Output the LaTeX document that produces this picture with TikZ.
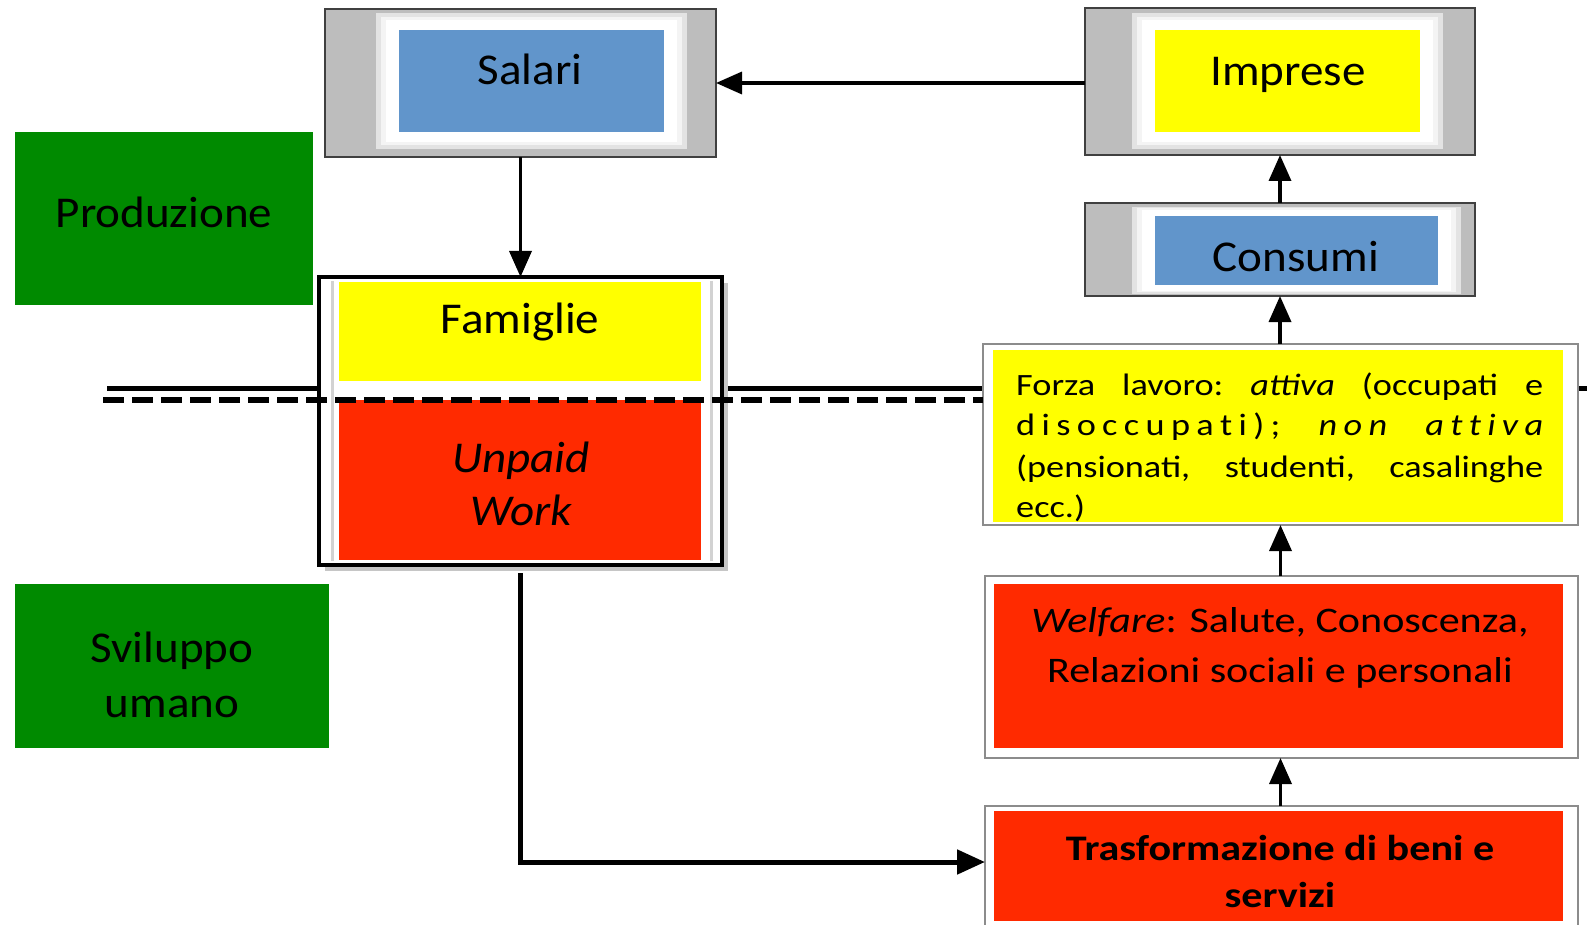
\documentclass[tikz,border=0pt]{standalone}
\usepackage{fontspec}
\setmainfont{Carlito}[FakeStretch=1.07]
\newfontfamily\widefont{Carlito}[FakeStretch=1.17]
\usetikzlibrary{arrows.meta}
\definecolor{cblue}{HTML}{6195CB}
\definecolor{cyel}{HTML}{FFFF00}
\definecolor{cred}{HTML}{FF2A00}
\definecolor{cgreen}{HTML}{008A00}
\definecolor{cgray}{HTML}{BDBDBD}
\begin{document}
\begin{tikzpicture}[x=1pt,y=-1pt,
  sz/.style 2 args={minimum width=#1pt,minimum height=#2pt,inner sep=0pt,outer sep=0pt},
  grayframe/.style={fill=cgray,draw=black!75,line width=2.5pt},
  halo/.style={fill=white,draw=none},
  softhalo/.style={fill=gray!22,draw=none},
  midhalo/.style={fill=gray!9,draw=none},
  lightframe/.style={fill=white,draw=black!45,line width=2pt},
  blackframe/.style={fill=white,draw=black,line width=4.5pt},
  arr/.style={line width=3.5pt,-{Triangle[length=26pt,width=22pt]}},
  thickarr/.style={line width=5pt,-{Triangle[length=28pt,width=24pt]}},
  lbl/.style={anchor=base,inner sep=0pt,font=\fontsize{44}{50}\selectfont},
  wlbl/.style={anchor=base,inner sep=0pt,font=\widefont\fontsize{36}{44}\selectfont},
  flbl/.style={anchor=base west,inner sep=0pt,font=\widefont\fontsize{31}{41}\selectfont},
  hline/.style={line width=5pt,black},
  dline/.style={line width=6pt,black,dash pattern=on 21pt off 8pt}
]
\useasboundingbox (0,0) rectangle (1587,925);
\fill[white] (0,0) rectangle (1587,925);

% solid separator line (behind boxes)
\coordinate (hl) at (107,388);
\coordinate (hr) at (985,388);
\coordinate (hr2) at (1576,388);
\coordinate (hr3) at (1587,388);
\draw[hline] (hl) -- (hr);
\draw[hline] (hr2) -- (hr3);

% green labels
\node[sz={298}{173},fill=cgreen] (prodG) at (164,218.5) {};
\node[lbl] (prodT) at (164,228) {Produzione};
\node[sz={314}{164},fill=cgreen] (svilG) at (172,666) {};
\node[lbl] (svilT1) at (172,662) {Sviluppo};
\node[lbl] (svilT2) at (172,717) {umano};

% Salari
\node[sz={391}{148},grayframe] (salF) at (520.5,83) {};
\node[sz={311}{136},softhalo] (salH3) at (531.5,81) {};
\node[sz={301}{128},midhalo] (salH2) at (531.5,81) {};
\node[sz={291}{122},halo] (salH) at (531.5,81) {};
\node[sz={265}{102},fill=cblue] (salB) at (531.5,81) {};
\node[lbl] (salT) at (530,85) {Salari};

% Imprese
\node[sz={390}{147},grayframe] (imprF) at (1280,81.5) {};
\node[sz={311}{136},softhalo] (imprH3) at (1287.5,81) {};
\node[sz={301}{128},midhalo] (imprH2) at (1287.5,81) {};
\node[sz={291}{122},halo] (imprH) at (1287.5,81) {};
\node[sz={265}{102},fill=cyel] (imprB) at (1287.5,81) {};
\node[lbl] (imprT) at (1288,86) {Imprese};

% Consumi
\node[sz={390}{93},grayframe] (consF) at (1280,249.5) {};
\node[sz={329}{87},softhalo] (consH3) at (1296.5,250.5) {};
\node[sz={319}{84},midhalo] (consH2) at (1296.5,250.5) {};
\node[sz={309}{81},halo] (consH) at (1296.5,250.5) {};
\node[sz={283}{69},fill=cblue] (consB) at (1296.5,250.5) {};
\node[lbl] (consT) at (1296,272) {Consumi};

% Famiglie / Unpaid work
\fill[gray!45] (325,283) rectangle (728,571);
\node[sz={403}{288},blackframe] (famF) at (520.5,421) {};
\draw[gray!35,line width=3pt] (332,281) -- (332,561);
\draw[gray!35,line width=3pt] (711,281) -- (711,561);
\node[sz={362}{99},fill=cyel] (famY) at (520,331.5) {};
\node[sz={362}{160},fill=cred] (famR) at (520,480) {};
\node[lbl] (famT) at (520,333) {Famiglie};
\node[lbl] (unpT1) at (521,472) {\itshape Unpaid};
\node[lbl] (unpT2) at (521,525) {\itshape Work};

% Forza lavoro
\node[sz={595}{181},lightframe] (forzF) at (1280.5,434.5) {};
\node[sz={570}{172},fill=cyel] (forzY) at (1278,436) {};
\node[flbl] (forzT1) at (1016,395) {\hbox to 527pt{Forza\hfil lavoro:\hfil \textit{attiva}\hfil (occupati\hfil e}};
\node[flbl] (forzT2) at (1016,435) {\hbox to 527pt{d\hfil i\hfil s\hfil o\hfil c\hfil c\hfil u\hfil p\hfil a\hfil t\hfil i\hfil )\hfil ;\hskip 0pt plus 6fil\textit{n\hfil o\hfil n}\hskip 0pt plus 6fil\textit{a\hfil t\hfil t\hfil i\hfil v\hfil a}}};
\node[flbl] (forzT3) at (1016,477) {\hbox to 527pt{(pensionati,\hfil studenti,\hfil casalinghe}};
\node[flbl] (forzT4) at (1016,517) {ecc.)};

% Welfare
\node[sz={593}{182},lightframe] (welfF) at (1281.5,667) {};
\node[sz={569}{164},fill=cred] (welfR) at (1278.5,666) {};
\node[wlbl] (welfT1) at (1280,632) {\textit{Welfare}: Salute, Conoscenza,};
\node[wlbl] (welfT2) at (1280,682) {Relazioni sociali e personali};

% Trasformazione
\node[sz={593}{134},lightframe] (trasF) at (1281.5,873) {};
\node[sz={569}{110},fill=cred] (trasR) at (1278.5,866) {};
\node[wlbl] (trasT1) at (1280,860) {\bfseries Trasformazione di beni e};
\node[wlbl] (trasT2) at (1280,907) {\bfseries servizi};

% dashed separator (on top)
\coordinate (dl) at (103,400);
\coordinate (dr) at (983,400);
\draw[dline] (dl) -- (dr);

% connectors
\draw[arr] (imprF.west |- salF.east) -- (salF.east);
\draw[arr] (salF.south) -- (famF.north);
\draw[arr] (consF.north) -- (imprF.south);
\draw[arr] (forzF.north -| consF.north) -- (consF.south);
\draw[arr] (welfF.north -| forzF.north) -- (forzF.south);
\draw[arr] (trasF.north -| forzF.north) -- (welfF.south -| forzF.north);
\draw[thickarr] ([yshift=-8pt]famF.south) |- (trasF.west |- 0,862);
\end{tikzpicture}
\end{document}
